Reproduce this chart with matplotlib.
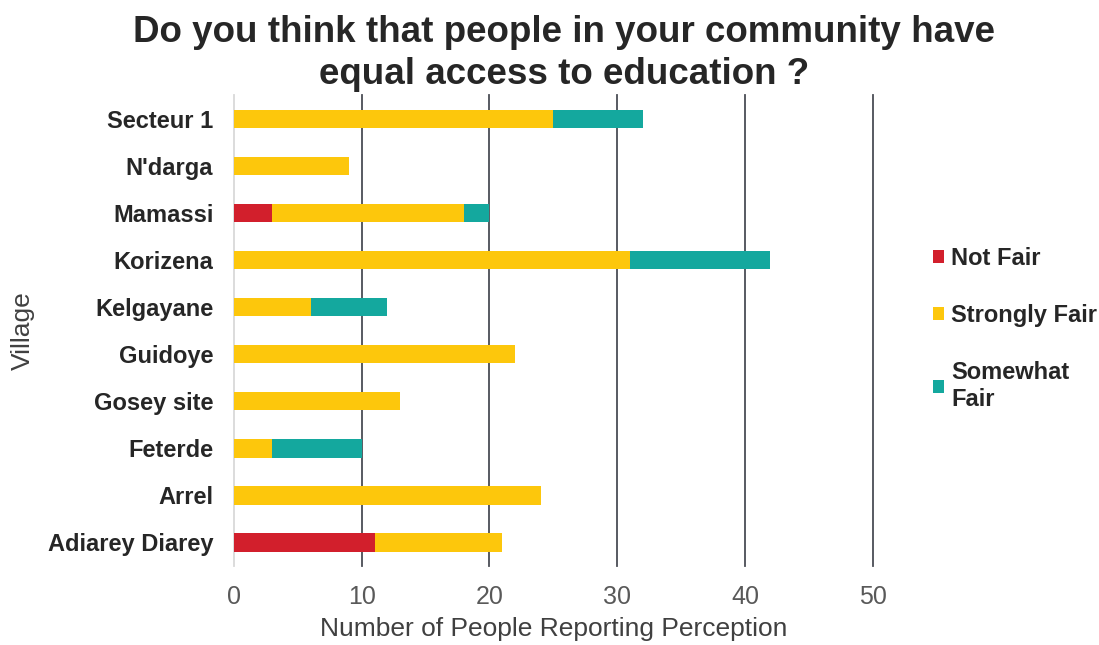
import matplotlib
matplotlib.use("Agg")
import matplotlib.pyplot as plt
import numpy as np

plt.rcParams["font.family"] = ["Liberation Sans", "DejaVu Sans"]

villages = ["Secteur 1", "N'darga", "Mamassi", "Korizena", "Kelgayane",
            "Guidoye", "Gosey site", "Feterde", "Arrel", "Adiarey Diarey"]
not_fair = [0, 0, 3, 0, 0, 0, 0, 0, 0, 11]
strongly_fair = [25, 9, 15, 31, 6, 22, 13, 3, 24, 10]
somewhat_fair = [7, 0, 2, 11, 6, 0, 0, 7, 0, 0]

series = [
    ("Not Fair", not_fair, "#D21F2C"),
    ("Strongly Fair", strongly_fair, "#FDC70C"),
    ("Somewhat\nFair", somewhat_fair, "#14A89E"),
]

fig = plt.figure(figsize=(10.99, 6.45), dpi=100)
ax = fig.add_axes([0.213, 0.123, 0.581, 0.729])

y = np.arange(len(villages))[::-1]
left = np.zeros(len(villages))
handles = []
for name, vals, color in series:
    vals = np.array(vals, dtype=float)
    h = ax.barh(y, vals, left=left, height=0.4, color=color, label=name, zorder=3)
    handles.append(h)
    left += vals

ax.set_xlim(0, 50)
ax.set_ylim(-0.5, len(villages) - 0.5)
ax.set_xticks(range(0, 51, 10))
ax.set_yticks(y)
ax.set_yticklabels(villages, fontsize=17, fontweight="bold", color="#262626")
ax.tick_params(axis="x", labelsize=18, colors="#595959", length=0, pad=14)
ax.tick_params(axis="y", length=0, pad=15)

for v in range(10, 51, 10):
    ax.axvline(v, color="#4A4D55", lw=1.3, zorder=1, clip_on=False)
ax.axvline(0, color="#D9D9D9", lw=1.3, zorder=1, clip_on=False)
for s in ax.spines.values():
    s.set_visible(False)

ax.set_xlabel("Number of People Reporting Perception", fontsize=19,
              color="#404040", labelpad=6)
ax.set_ylabel("Village", fontsize=19, color="#404040", labelpad=9)

fig.suptitle("Do you think that people in your community have\nequal access to education ?",
             fontsize=26.5, fontweight="bold", color="#262626", y=0.976,
             x=0.513, linespacing=1.24)

leg = fig.legend(handles=handles, loc="center left", bbox_to_anchor=(0.83, 0.49),
                 frameon=False, handlelength=0.45, handleheight=0.45,
                 handletextpad=0.3, labelspacing=1.45,
                 prop={"size": 17, "weight": "bold"})
for t in leg.get_texts():
    t.set_color("#262626")

fig.savefig("out.png", dpi=100)
